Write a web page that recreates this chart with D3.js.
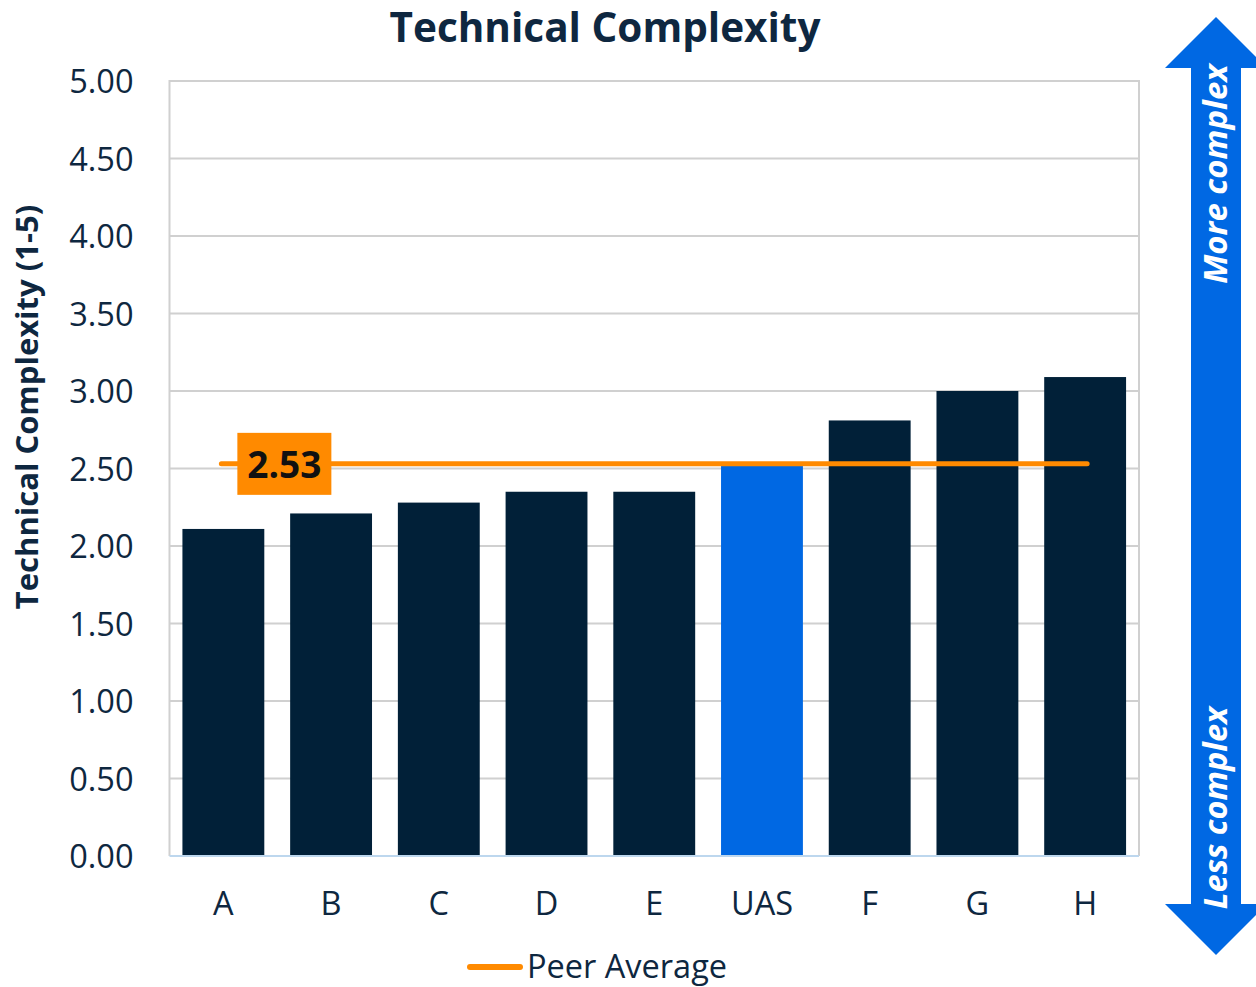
<!DOCTYPE html>
<html>
<head>
<meta charset="utf-8">
<script src="https://cdn.jsdelivr.net/npm/d3@7"></script>
<style>
  body { margin: 0; background: #fff; }
  text { font-family: "Open Sans", sans-serif; }
</style>
</head>
<body>
<div id="chart"></div>
<script>
(function(){
    // data
    var categories  = ['A', 'B', 'C', 'D', 'E', 'UAS', 'F', 'G', 'H'];
    var values      = [2.11, 2.21, 2.28, 2.35, 2.35, 2.52, 2.81, 3.00, 3.09];
    var highlight   = 'UAS';
    var peerAverage = 2.53;
    var yTicks      = [0, 0.5, 1, 1.5, 2, 2.5, 3, 3.5, 4, 4.5, 5];

    var WIDTH   = 1256,
        HEIGHT  = 987,
        LEFT    = 169.5,
        RIGHT   = 1139,
        TOP     = 81,
        BOTTOM  = 856;

    var NAVY   = '#012038',
        BLUE   = '#0068E3',
        ORANGE = '#FF8A00',
        TEXT   = '#0E2740';

    var svg = d3.select('#chart').append('svg')
        .attr('width', WIDTH)
        .attr('height', HEIGHT);

    var x = d3.scaleBand()
        .domain(categories)
        .range([LEFT, RIGHT])
        .paddingInner(0.24)
        .paddingOuter(0.12);

    var y = d3.scaleLinear()
        .domain([0, 5])
        .range([BOTTOM, TOP]);

    // gridlines
    svg.append('g').selectAll('line')
        .data(yTicks.filter(function(d){ return d > 0; }))
        .enter().append('line')
        .attr('x1', LEFT).attr('x2', RIGHT)
        .attr('y1', function(d){ return y(d); })
        .attr('y2', function(d){ return y(d); })
        .attr('stroke', '#D0D0D0')
        .attr('stroke-width', 2);

    // plot border (left / right)
    svg.append('line').attr('x1', LEFT).attr('x2', LEFT).attr('y1', TOP - 1).attr('y2', BOTTOM)
        .attr('stroke', '#D0D0D0').attr('stroke-width', 2);
    svg.append('line').attr('x1', RIGHT).attr('x2', RIGHT).attr('y1', TOP - 1).attr('y2', BOTTOM)
        .attr('stroke', '#D0D0D0').attr('stroke-width', 2);

    // y axis labels
    var yAxis = d3.axisLeft(y).tickValues(yTicks).tickFormat(d3.format('.2f')).tickSize(0).tickPadding(36);
    var yg = svg.append('g').attr('transform', 'translate(' + LEFT + ',0)').call(yAxis);
    yg.select('.domain').remove();
    yg.selectAll('text')
        .attr('fill', TEXT)
        .style('font-size', '32.5px')
        .attr('dy', '0.36em');

    // bars
    svg.append('g').selectAll('rect')
        .data(categories)
        .enter().append('rect')
        .attr('x', function(d){ return x(d); })
        .attr('width', x.bandwidth())
        .attr('y', function(d, i){ return y(values[i]); })
        .attr('height', function(d, i){ return y(0) - y(values[i]); })
        .attr('fill', function(d){ return d === highlight ? BLUE : NAVY; });

    // baseline
    svg.append('line').attr('x1', LEFT).attr('x2', RIGHT)
        .attr('y1', y(0)).attr('y2', y(0))
        .attr('stroke', '#BDD7EE').attr('stroke-width', 2);

    // x axis labels
    var xAxis = d3.axisBottom(x).tickSize(0).tickPadding(36);
    var xg = svg.append('g').attr('transform', 'translate(0,' + BOTTOM + ')').call(xAxis);
    xg.select('.domain').remove();
    xg.selectAll('text')
        .attr('fill', TEXT)
        .style('font-size', '32.5px');

    // peer average line
    var first = categories[0], last = categories[categories.length - 1];
    svg.append('line')
        .attr('x1', x(first) + x.bandwidth() / 2 - 2)
        .attr('x2', x(last) + x.bandwidth() / 2 + 2)
        .attr('y1', y(peerAverage)).attr('y2', y(peerAverage))
        .attr('stroke', ORANGE).attr('stroke-width', 5)
        .attr('stroke-linecap', 'round');

    // peer average label
    var lblX = x(first) + x.bandwidth() / 2 + 61;
    svg.append('rect')
        .attr('x', lblX - 47).attr('y', y(peerAverage) - 31)
        .attr('width', 94).attr('height', 62)
        .attr('fill', ORANGE);
    svg.append('text')
        .attr('x', lblX).attr('y', y(peerAverage))
        .attr('dy', '0.37em')
        .attr('text-anchor', 'middle')
        .attr('fill', '#111')
        .style('font-size', '37px')
        .style('font-weight', 'bold')
        .text(d3.format('.2f')(peerAverage));

    // title
    svg.append('text')
        .attr('x', 605).attr('y', 42)
        .attr('text-anchor', 'middle')
        .attr('fill', TEXT)
        .style('font-size', '40.5px')
        .style('font-weight', 'bold')
        .text('Technical Complexity');

    // y axis title
    svg.append('text')
        .attr('transform', 'translate(38,407) rotate(-90)')
        .attr('text-anchor', 'middle')
        .attr('fill', TEXT)
        .style('font-size', '31px')
        .style('font-weight', 'bold')
        .text('Technical Complexity (1-5)');

    // legend
    svg.append('line')
        .attr('x1', 470).attr('x2', 520).attr('y1', 967).attr('y2', 967)
        .attr('stroke', ORANGE).attr('stroke-width', 6).attr('stroke-linecap', 'round');
    svg.append('text')
        .attr('x', 527).attr('y', 978)
        .attr('fill', TEXT)
        .style('font-size', '32.5px')
        .text('Peer Average');

    // double-headed arrow on the right
    var ax = 1216, shaft = 25, head = 51, tipTop = 17, headTop = 68, headBot = 904, tipBot = 955;
    var arrow = [
        [ax, tipTop], [ax + head, headTop], [ax + shaft, headTop],
        [ax + shaft, headBot], [ax + head, headBot], [ax, tipBot],
        [ax - head, headBot], [ax - shaft, headBot], [ax - shaft, headTop],
        [ax - head, headTop]
    ];
    svg.append('path')
        .attr('d', d3.line()(arrow) + 'Z')
        .attr('fill', BLUE);

    svg.append('text')
        .attr('transform', 'translate(' + (ax + 11) + ',' + 174 + ') rotate(-90)')
        .attr('text-anchor', 'middle')
        .attr('fill', '#fff')
        .style('font-size', '33px')
        .style('font-weight', 'bold')
        .style('font-style', 'italic')
        .text('More complex');
    svg.append('text')
        .attr('transform', 'translate(' + (ax + 11) + ',' + 808 + ') rotate(-90)')
        .attr('text-anchor', 'middle')
        .attr('fill', '#fff')
        .style('font-size', '32.5px')
        .style('font-weight', 'bold')
        .style('font-style', 'italic')
        .text('Less complex');
})();
</script>
</body>
</html>
